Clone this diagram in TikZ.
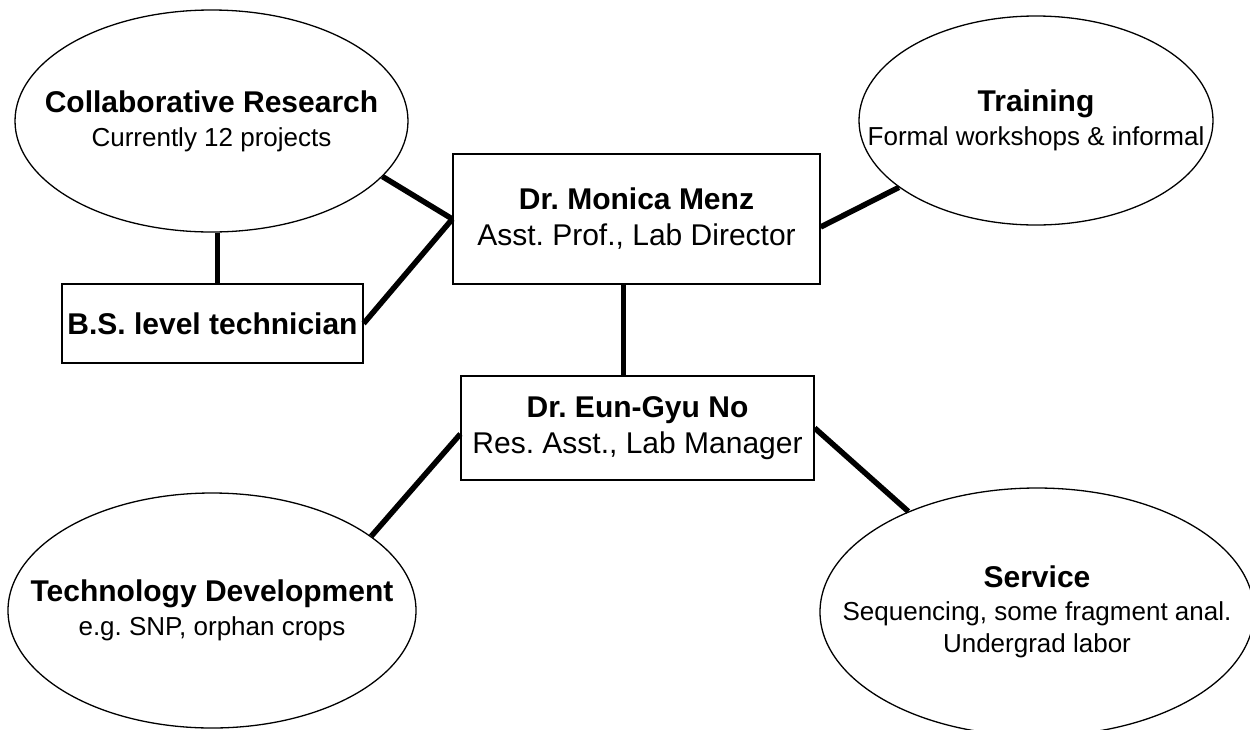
\documentclass[tikz,border=0pt]{standalone}
\usepackage{fontspec}
\setmainfont{Liberation Sans}
\usetikzlibrary{shapes.geometric}
\frenchspacing
\tikzset{
  ellshape/.style={ellipse, draw, line width=1.3pt, inner sep=0pt},
  boxshape/.style={rectangle, draw, line width=1.3pt, inner sep=0pt, align=center,
    font=\fontsize{30}{36}\selectfont},
  eltext/.style={align=center, inner sep=0pt, font=\fontsize{26}{34}\selectfont},
  conn/.style={line width=5.5pt},
}
\newcommand\ttl[1]{{\fontsize{30}{34}\selectfont\bfseries #1}}
\begin{document}
\frenchspacing
\begin{tikzpicture}[x=1pt,y=-1pt]
\useasboundingbox (0,0) rectangle (1250,729);
\clip (0,0) rectangle (1250,729);
% ellipses
\node[ellshape, minimum width=393pt, minimum height=222pt] (collab) at (211.5,121) {};
\node[eltext] (collabtext) at (collab.center) {\ttl{Collaborative Research}\\Currently 12 projects};
\node[ellshape, minimum width=354pt, minimum height=209pt] (training) at (1036,120.5) {};
\node[eltext] (trainingtext) at (training.center) {\ttl{Training}\\Formal workshops \& informal};
\node[ellshape, minimum width=408pt, minimum height=235pt] (tech) at (212,610.5) {};
\node[eltext] (techtext) at (tech.center) {\ttl{Technology Development}\\e.g. SNP, orphan crops};
\node[ellshape, minimum width=434pt, minimum height=248pt] (service) at (1037,612) {};
\node[eltext, font=\fontsize{26}{32.5}\selectfont] (servicetext) at (service.center)
  {\ttl{Service}\\Sequencing, some fragment anal.\\Undergrad labor};
% boxes
\node[boxshape, minimum width=367pt, minimum height=130pt] (monica) at (636.5,219)
  {\textbf{Dr. Monica Menz}\\Asst. Prof., Lab Director};
\node[boxshape, minimum width=353pt, minimum height=104pt] (eun) at (637.5,428)
  {\textbf{Dr. Eun-Gyu No}\\Res. Asst., Lab Manager};
\node[boxshape, minimum width=301pt, minimum height=79pt] (bs) at (212.5,323.5)
  {\textbf{B.S. level technician}};
% connectors
\draw[conn] (collab.-18) -- (monica.west);
\draw[conn] (monica.west) -- (bs.east);
\draw[conn] (collab.-87) -- (collab.-87 |- bs.north);
\draw[conn] ([yshift=-8pt]monica.east) -- (training.-154);
\draw[conn] (monica.-101.3) -- (monica.-101.3 |- eun.north);
\draw[conn] ([yshift=-6pt]eun.west) -- (tech.25);
\draw[conn] (eun.east) -- (service.142);
\end{tikzpicture}
\end{document}
